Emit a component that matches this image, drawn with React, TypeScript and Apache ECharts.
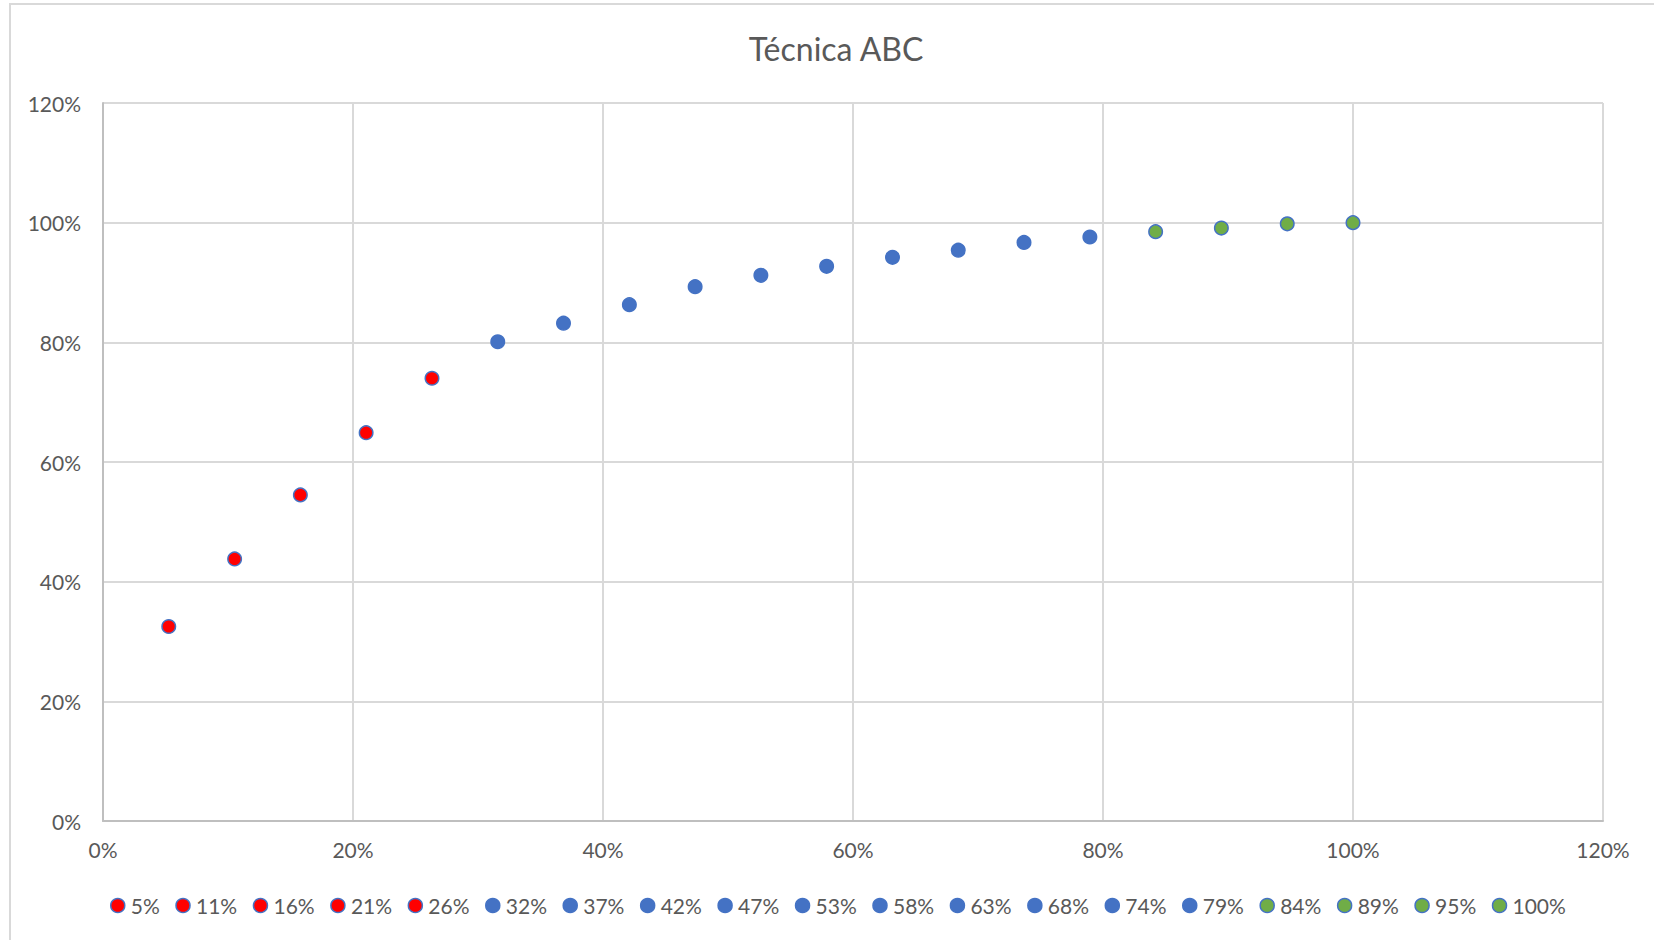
import React, { useEffect, useRef } from "react";
import * as echarts from "echarts";

// Cumulative share of items (x) against cumulative share of value (y)
const itemLabels = ["5%", "11%", "16%", "21%", "26%", "32%", "37%", "42%", "47%", "53%", "58%", "63%", "68%", "74%", "79%", "84%", "89%", "95%", "100%"];
const itemShare = [0.0526, 0.1053, 0.1579, 0.2105, 0.2632, 0.3158, 0.3684, 0.4211, 0.4737, 0.5263, 0.5789, 0.6316, 0.6842, 0.7368, 0.7895, 0.8421, 0.8947, 0.9474, 1.0];
const valueShare = [0.325, 0.438, 0.545, 0.649, 0.740, 0.801, 0.832, 0.863, 0.893, 0.912, 0.927, 0.942, 0.954, 0.967, 0.976, 0.985, 0.991, 0.998, 1.0];
const itemClass = ["A", "A", "A", "A", "A", "B", "B", "B", "B", "B", "B", "B", "B", "B", "B", "C", "C", "C", "C"];
const axisTicks = [0, 0.2, 0.4, 0.6, 0.8, 1.0, 1.2];

const classFill: Record<string, string> = { A: "#FF0000", B: "#4472C4", C: "#70AD47" };
const BORDER = "#4472C4";
const TEXT = "#595959";
const FONT = "Lato, 'Open Sans', sans-serif";

const pct = (v: number) => `${Math.round(v * 100)}%`;

export default function App() {
  const ref = useRef<HTMLDivElement>(null);

  useEffect(() => {
    if (!ref.current) return;
    const chart = echarts.init(ref.current, undefined, { renderer: "svg" });

    const series = itemLabels.map((name, i) => ({
      name,
      type: "scatter" as const,
      data: [[itemShare[i], valueShare[i]]],
      symbol: "circle",
      symbolSize: 13.5,
      itemStyle: {
        color: classFill[itemClass[i]],
        borderColor: BORDER,
        borderWidth: 1.5,
        opacity: 1,
      },
    }));

    const axisCommon = {
      type: "value" as const,
      min: axisTicks[0],
      max: axisTicks[axisTicks.length - 1],
      interval: 0.2,
      axisTick: { show: false },
      axisLine: { show: true, lineStyle: { color: "#bfbfbf", width: 2 } },
      splitLine: { show: true, lineStyle: { color: "#d9d9d9", width: 2 } },
    };

    chart.setOption({
      animation: false,
      backgroundColor: "#ffffff",
      textStyle: { fontFamily: FONT },
      grid: { left: 103, top: 103, width: 1500, height: 718, containLabel: false },
      xAxis: {
        ...axisCommon,
        axisLabel: { formatter: pct, color: TEXT, fontSize: 21, fontFamily: FONT, margin: 18 },
      },
      yAxis: {
        ...axisCommon,
        axisLabel: { formatter: pct, color: TEXT, fontSize: 21, fontFamily: FONT, margin: 22 },
      },
      legend: {
        left: 105,
        top: 890,
        icon: "circle",
        itemWidth: 14,
        itemHeight: 14,
        itemGap: 15.5,
        textStyle: { color: TEXT, fontSize: 21, fontFamily: FONT, padding: [0, 0, 0, 1] },
        data: itemLabels.map((name, i) => ({
          name,
          itemStyle: { color: classFill[itemClass[i]], borderColor: BORDER, borderWidth: 1.5 },
        })),
      },
      graphic: [
        {
          type: "rect",
          shape: { x: 10, y: 4, width: 1700, height: 1000 },
          style: { fill: "none", stroke: "#d9d9d9", lineWidth: 2 },
          silent: true,
        },
        {
          type: "text",
          x: 836,
          y: 48,
          style: {
            text: "Técnica ABC",
            fill: TEXT,
            fontSize: 32,
            fontFamily: FONT,
            textAlign: "center",
            textVerticalAlign: "middle",
          },
        },
      ],
      series,
    });

    return () => chart.dispose();
  }, []);

  return (
    <div
      ref={ref}
      style={{ position: "absolute", left: 0, top: 0, width: 1654, height: 940, background: "#fff" }}
    />
  );
}
